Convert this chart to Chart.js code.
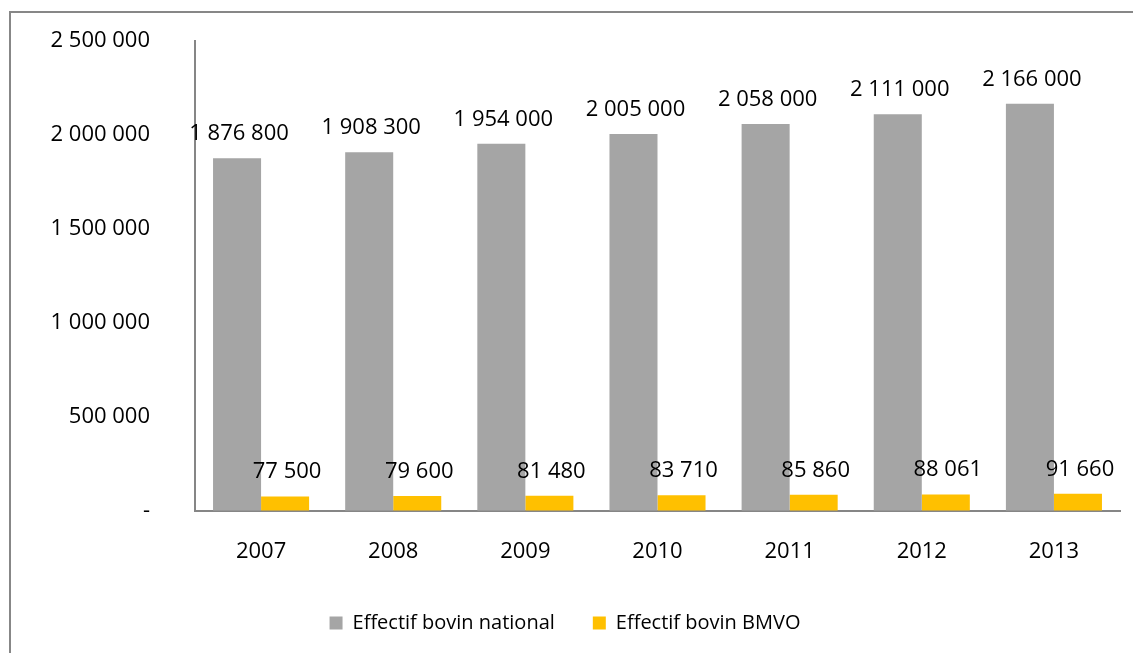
<!DOCTYPE html>
<html>
<head>
<meta charset="utf-8">
<script src="https://cdn.jsdelivr.net/npm/chart.js@4/dist/chart.umd.min.js"></script>
<style>
  html, body { margin: 0; padding: 0; background: #fff; }
  #wrap { width: 1133px; height: 653px; position: relative; }
</style>
</head>
<body>
<div id="wrap"><canvas id="c" width="1133" height="653"></canvas></div>
<script>
const years = ['2007', '2008', '2009', '2010', '2011', '2012', '2013'];
const nationalLabel = 'Effectif bovin national';
const bmvoLabel = 'Effectif bovin BMVO';
const nationalHerd = [1876800, 1908300, 1954000, 2005000, 2058000, 2111000, 2166000];
const bmvoHerd = [77500, 79600, 81480, 83710, 85860, 88061, 91660];
const yTicks = [0, 500000, 1000000, 1500000, 2000000, 2500000];

const FONT = '"Open Sans", Lato, sans-serif';
const fmt = v => v === 0 ? '-' : String(v).replace(/\B(?=(\d{3})+(?!\d))/g, ' ');

// outer frame around the chart
const framePlugin = {
  id: 'frame',
  beforeDraw(chart) {
    const ctx = chart.ctx;
    ctx.save();
    ctx.fillStyle = '#fff';
    ctx.fillRect(0, 0, chart.width, chart.height);
    ctx.strokeStyle = '#878787';
    ctx.lineWidth = 2;
    ctx.strokeRect(10, 12, chart.width + 20, chart.height + 20);
    ctx.restore();
  }
};

// value written above each bar
const valueLabels = {
  id: 'valueLabels',
  afterDatasetsDraw(chart) {
    const ctx = chart.ctx;
    ctx.save();
    ctx.font = '22px ' + FONT;
    ctx.fillStyle = '#000';
    ctx.textAlign = 'center';
    ctx.textBaseline = 'alphabetic';
    chart.data.datasets.forEach((ds, i) => {
      chart.getDatasetMeta(i).data.forEach((bar, j) => {
        ctx.fillText(fmt(ds.data[j]), bar.x + 2, bar.y - 18);
      });
    });
    ctx.restore();
  }
};

new Chart(document.getElementById('c'), {
  type: 'bar',
  data: {
    labels: years,
    datasets: [
      { label: nationalLabel, data: nationalHerd, backgroundColor: '#a5a5a5' },
      { label: bmvoLabel, data: bmvoHerd, backgroundColor: '#ffc000' }
    ]
  },
  options: {
    responsive: false,
    animation: false,
    devicePixelRatio: 1,
    layout: { padding: { left: 10, top: 41, right: 13, bottom: 10 } },
    datasets: { bar: { categoryPercentage: 0.727, barPercentage: 1.0 } },
    plugins: {
      legend: {
        position: 'bottom',
        labels: {
          font: { family: FONT, size: 20 },
          color: '#000',
          boxWidth: 13,
          boxHeight: 13,
          padding: 38
        }
      },
      tooltip: { enabled: false }
    },
    scales: {
      x: {
        grid: { display: false, drawTicks: false },
        border: { color: '#868686', width: 2 },
        ticks: { font: { family: FONT, size: 22 }, color: '#000', padding: 28 },
        afterFit(s) { s.height = 64; }
      },
      y: {
        min: 0,
        max: 2500000,
        // invisible tick marks keep the labels away from the axis line
        grid: { display: true, drawOnChartArea: false, drawTicks: true, tickLength: 45, color: 'rgba(0,0,0,0)' },
        border: { color: '#868686', width: 2 },
        afterBuildTicks(s) { s.ticks = yTicks.map(v => ({ value: v })); },
        ticks: {
          font: { family: FONT, size: 22 },
          color: '#000',
          padding: 0,
          callback: v => fmt(v)
        },
        afterFit(s) { s.width = 185; }
      }
    }
  },
  plugins: [framePlugin, valueLabels]
});
</script>
</body>
</html>
